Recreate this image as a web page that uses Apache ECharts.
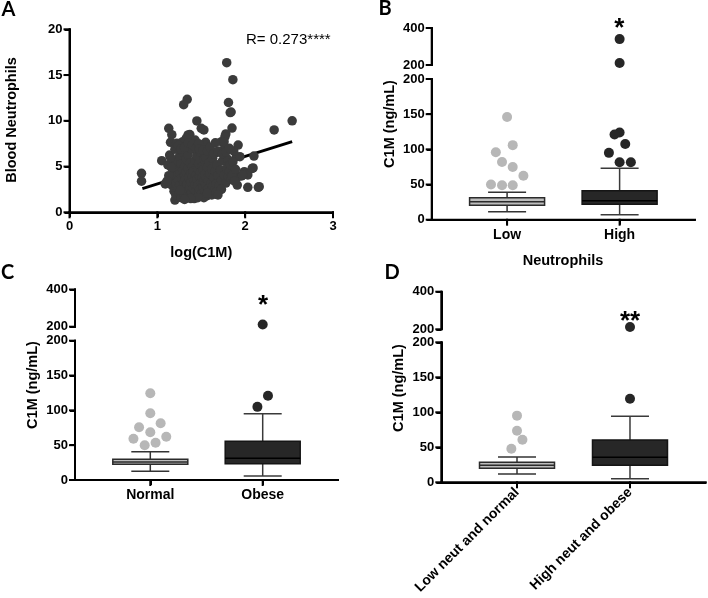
<!DOCTYPE html>
<html><head><meta charset="utf-8">
<script src="https://cdn.jsdelivr.net/npm/echarts@6/dist/echarts.min.js"></script>
<style>html,body{margin:0;padding:0;background:#fff;overflow:hidden}#c{width:708px;height:598px}</style>
</head><body><div id="c"></div>
<script>
// ---------- DATA ----------
// Panel A: log(C1M) vs blood neutrophils
const scatterA = [
[2.535,10.0],[2.33,9.0],[2.16,2.8],[2.03,2.73],[2.09,4.85],[2.10,6.15],[1.99,4.44],[2.03,4.08],[1.96,3.97],[1.92,3.9],
[1.91,2.98],[1.92,7.35],[1.90,6.08],[1.79,16.35],[1.86,14.5],[1.81,12.0],[1.84,10.96],[1.34,12.35],[1.30,11.76],[1.13,9.18],
[1.45,9.98],[1.50,9.18],[1.53,9.0],[1.85,9.2],[1.78,8.56],[0.82,4.26],[0.82,3.4],[1.14,6.26],[1.05,5.64],[1.16,5.35],
[1.15,7.65],[1.165,8.48],[1.20,1.34],[1.43,1.70],[1.22,7.54],[1.29,7.72],[1.37,8.5],[1.55,7.65],[1.73,7.72],[1.77,8.26],
[1.71,6.59],[1.61,6.45],[1.94,6.08],[1.88,4.44],[1.75,3.53],[1.67,3.53],[1.71,2.8],[1.09,3.1],[1.12,5.17],[1.10,3.17],
[1.43,7.9],[1.35,8.45],[1.83,10.9],[1.62,6.62],[1.67,6.52],[1.75,6.8],[1.76,7.72],[1.81,5.35],[1.86,3.9],[1.97,4.08],
[2.15,2.73],[2.08,4.8],[1.69,2.62],[1.33,1.7],
[1.17,2.9],[1.18,3.6],[1.19,4.3],[1.19,2.3],[1.20,5.1],[1.21,3.2],[1.21,1.9],[1.22,4.0],[1.23,2.6],[1.23,5.6],
[1.24,3.5],[1.24,4.7],[1.25,2.1],[1.25,6.1],[1.26,3.0],[1.26,4.2],[1.27,1.6],[1.27,5.3],[1.28,3.7],[1.28,2.5],
[1.29,4.6],[1.29,6.6],[1.30,3.3],[1.30,2.0],[1.31,5.0],[1.31,4.0],[1.32,2.8],[1.32,3.6],[1.33,5.8],[1.33,4.4],
[1.34,2.3],[1.34,3.1],[1.35,4.8],[1.35,6.3],[1.36,3.8],[1.36,1.8],[1.37,2.7],[1.37,5.4],[1.38,4.2],[1.38,3.3],
[1.39,2.1],[1.39,6.9],[1.40,3.9],[1.40,5.0],[1.41,2.6],[1.41,4.5],[1.42,3.5],[1.42,1.5],[1.43,5.7],[1.43,3.0],
[1.44,4.1],[1.44,2.3],[1.45,6.2],[1.45,3.6],[1.46,4.8],[1.46,2.9],[1.47,1.9],[1.47,5.3],[1.48,3.9],[1.48,2.5],
[1.49,4.4],[1.49,6.6],[1.50,3.3],[1.50,2.0],[1.51,5.0],[1.51,3.8],[1.52,2.8],[1.52,4.6],[1.53,3.4],[1.53,5.8],
[1.54,2.3],[1.54,4.1],[1.55,3.0],[1.55,6.0],[1.56,3.7],[1.56,1.8],[1.57,4.9],[1.58,2.6],[1.58,3.5],[1.59,5.4],
[1.60,4.2],[1.60,2.2],[1.61,3.2],[1.62,4.7],[1.63,2.8],[1.63,5.9],[1.64,3.8],[1.65,2.4],[1.66,4.5],[1.67,3.1],
[1.68,5.2],[1.69,4.0],[1.70,2.9],[1.72,4.6],[1.73,3.5],[1.74,5.6],[1.76,4.1],[1.78,3.2],[1.79,4.8],[1.80,5.8],
[1.81,3.9],[1.82,4.5],[1.83,5.2],[1.84,3.6],[1.85,4.0],[1.86,5.5],[1.87,6.7],[1.89,4.7],[1.88,3.4],
[1.16,4.9],[1.15,6.0],[1.13,4.0],[1.11,3.4],[1.20,6.9],[1.24,7.3],[1.27,6.9],[1.31,7.1],[1.33,8.1],[1.35,7.6],
[1.40,7.4],[1.44,7.0],[1.47,7.5],[1.48,6.9],[1.52,6.8],[1.57,6.7],[1.60,7.1],[1.64,6.4],[1.66,7.6],[1.69,6.7],
[1.74,6.4],[1.78,6.6],[1.82,7.0],[1.62,1.9],[1.53,1.6],[1.46,1.6],[1.38,1.5],[1.31,1.4],[1.26,2.4],[1.57,2.1],
[1.67,2.2],[1.73,2.5],[1.69,1.9]
];
const fitX = [0.83, 2.535];
const fitY = [2.58, 7.72];
const rText = 'R= 0.273****';
const ticksAx = [0, 1, 2, 3];
const ticksAy = [0, 5, 10, 15, 20];
const ticksUpper = [200, 400];
const ticksLower = [0, 50, 100, 150, 200];
const ticksCat = [1, 2];

// Panel B: Neutrophils low/high  [min, Q1, median, Q3, max]
const catsB = ['Low', 'High'];
const boxB = [[11.4, 20.5, 25.6, 31.3, 39.0], [7.1, 21.9, 27.0, 41.2, 73.0]];
const outBLow = [[1.0,146],[1.05,106],[0.90,96],[0.955,82],[1.05,75],[1.145,62.5],[0.857,50],[0.955,49],[1.05,49]];
const outBHigh = [[2.0,124],[1.955,121],[2.05,107.6],[1.905,95],[2.0,81.6],[2.1,81.6]];
const outBHighTop = [[2.0,340],[2.0,211]];

// Panel C: Normal/Obese
const catsC = ['Normal', 'Obese'];
const boxC = [[12.4, 22.5, 25.8, 29.7, 40.6], [5.7, 23.4, 31.2, 55.5, 95.2]];
const outCLow = [[1.0,124.5],[1.0,95.8],[1.092,81.4],[0.9,75.7],[1.0,68.5],[1.142,62.2],[0.85,59.3],[1.047,53.6],[0.95,49.8]];
const outCHigh = [[2.047,121],[1.953,105]];
const outCHighTop = [[2.0,212]];

// Panel D
const catsD = ['Low neut and normal', 'High neut and obese'];
const boxD = [[11.9, 20.0, 24.3, 28.6, 36.1], [5.2, 24.3, 35.7, 60.4, 94.3]];
const outDLow = [[1.0,95.2],[1.0,73.7],[1.048,60.9],[0.95,48]];
const outDHigh = [[2.0,119.4]];
const outDHighTop = [[2.0,212]];

// ---------- THEME (axis defaults) ----------
const axisTheme = {
  axisLine: {show: true, onZero: false, lineStyle: {color: '#000000', width: 2}},
  axisTick: {show: true, inside: false, length: 5, lineStyle: {color: '#000000', width: 2}},
  axisLabel: {show: true, color: '#000000', fontFamily: 'Liberation Sans, Arial, sans-serif', fontWeight: 'bold', fontSize: 13},
  splitLine: {show: false}
};
echarts.registerTheme('gp', {
  backgroundColor: '#ffffff',
  valueAxis: JSON.parse(JSON.stringify(axisTheme)),
  categoryAxis: JSON.parse(JSON.stringify(axisTheme))
});

// ---------- LAYOUT ----------
const layouts = [
  {cats: catsB, box: boxB, low: outBLow, high: outBHigh, top: outBHighTop,
   left: 431.7, width: 263.3, upTop: 28, upH: 37, loTop: 79, loH: 140.7, rot: 0},
  {cats: catsC, box: boxC, low: outCLow, high: outCHigh, top: outCHighTop,
   left: 75, width: 263, upTop: 289.5, upH: 37.2, loTop: 340.7, loH: 139.3, rot: 0},
  {cats: catsD, box: boxD, low: outDLow, high: outDHigh, top: outDHighTop,
   left: 441.3, width: 264.4, upTop: 291.7, upH: 37.6, loTop: 342.3, loH: 140, rot: 45}
];

const boxStyles = [
  {fill: '#bdbdbd', stroke: '#2b2b2b', med: '#2b2b2b', wh: '#333333'},
  {fill: '#272727', stroke: '#151515', med: '#000000', wh: '#3a3a3a'}
];
function renderBox(params, api) {
  const x = api.value(0);
  const p = [1, 2, 3, 4, 5].map(i => api.coord([x, api.value(i)]));
  const cx = p[0][0];
  const bw = 75, cw = 38;
  const s = boxStyles[params.dataIndex];
  const seg = (x1, y1, x2, y2, c) => ({type: 'line', shape: {x1: x1, y1: y1, x2: x2, y2: y2}, style: {stroke: c, lineWidth: 1.5}});
  return {type: 'group', children: [
    seg(cx, p[0][1], cx, p[1][1], s.wh),
    seg(cx, p[3][1], cx, p[4][1], s.wh),
    seg(cx - cw / 2, p[0][1], cx + cw / 2, p[0][1], s.wh),
    seg(cx - cw / 2, p[4][1], cx + cw / 2, p[4][1], s.wh),
    {type: 'rect', shape: {x: cx - bw / 2, y: p[3][1], width: bw, height: p[1][1] - p[3][1]},
     style: {fill: s.fill, stroke: s.stroke, lineWidth: 1.5}},
    seg(cx - bw / 2, p[2][1], cx + bw / 2, p[2][1], s.med)
  ]};
}

// axis line + tick marks drawn through the axes' own scales
function axisFrame(xr, yr, xt, yt, drawX) {
  return function (params, api) {
    const k = [];
    const seg = (a, b) => ({type: 'line', shape: {x1: a[0], y1: a[1], x2: b[0], y2: b[1]},
      style: {stroke: '#000000', lineWidth: 2, lineCap: 'square'}});
    const o = api.coord([xr[0], yr[0]]);
    const yTop = api.coord([xr[0], yr[1]]);
    k.push(seg(o, yTop));
    yt.forEach(v => { const p = api.coord([xr[0], v]); k.push(seg([p[0] - 5, p[1]], [p[0], p[1]])); });
    if (drawX) {
      const xEnd = api.coord([xr[1], yr[0]]);
      k.push(seg(o, xEnd));
      xt.forEach(v => { const p = api.coord([v, yr[0]]); k.push(seg([p[0], p[1]], [p[0], p[1] + 5])); });
    }
    return {type: 'group', children: k};
  };
}

const LBL = {show: true, color: '#000000', fontFamily: 'Liberation Sans, Arial, sans-serif', fontWeight: 'bold', fontSize: 13, margin: 7};
const gridList = [{left: 69.5, top: 29.3, width: 263.5, height: 183}];
const xList = [{
  gridIndex: 0, type: 'value', min: 0, max: 3, interval: 1,
  axisLine: {show: true, onZero: false, lineStyle: {color: '#000000', width: 2}},
  axisTick: {show: true, inside: false, length: 5, lineStyle: {color: '#000000', width: 2}},
  axisLabel: Object.assign({}, LBL, {margin: 8}),
  splitLine: {show: false},
  name: 'log(C1M)', nameLocation: 'middle', nameGap: 33,
  nameTextStyle: {color: '#000000', fontFamily: 'Liberation Sans, Arial, sans-serif', fontWeight: 'bold', fontSize: 14.5}
}];
const yList = [{
  gridIndex: 0, type: 'value', min: 0, max: 20, interval: 5,
  axisLine: {show: true, onZero: false, lineStyle: {color: '#000000', width: 2}},
  axisTick: {show: true, inside: false, length: 5, lineStyle: {color: '#000000', width: 2}},
  axisLabel: Object.assign({}, LBL),
  splitLine: {show: false}
}];
const seriesList = [
  {type: 'custom', xAxisIndex: 0, yAxisIndex: 0, data: [[0, 0]], clip: false, silent: true, z: 1,
   renderItem: axisFrame([0, 3], [0, 20], ticksAx, ticksAy, true)},
  {type: 'line', xAxisIndex: 0, yAxisIndex: 0, data: fitX.map((x, i) => [x, fitY[i]]), symbol: 'none',
   lineStyle: {color: '#000000', width: 3}, z: 1, silent: true},
  {type: 'scatter', xAxisIndex: 0, yAxisIndex: 0, data: scatterA, symbolSize: 9.5,
   itemStyle: {color: '#3b3b3b', opacity: 1}, z: 2, silent: true}
];

layouts.forEach(function (pn) {
  const gUp = gridList.length;
  gridList.push({left: pn.left, top: pn.upTop, width: pn.width, height: pn.upH});
  gridList.push({left: pn.left, top: pn.loTop, width: pn.width, height: pn.loH});
  xList.push({gridIndex: gUp, type: 'value', min: 0.33, max: 2.67, show: false, splitLine: {show: false}});
  xList.push({
    gridIndex: gUp + 1, type: 'value', min: 0.33, max: 2.67,
    axisLine: {show: true, onZero: false, lineStyle: {color: '#000000', width: 2}},
    axisTick: {show: true, inside: false, length: 5, customValues: ticksCat, lineStyle: {color: '#000000', width: 2}},
    axisLabel: {show: true, customValues: ticksCat, formatter: function (v) { return pn.cats[Math.round(v) - 1]; },
      rotate: pn.rot, color: '#000000', fontFamily: 'Liberation Sans, Arial, sans-serif', fontWeight: 'bold', fontSize: 14, margin: 8},
    splitLine: {show: false}
  });
  yList.push({
    gridIndex: gUp, type: 'value', min: 200, max: 400, interval: 200,
    axisLine: {show: true, onZero: false, lineStyle: {color: '#000000', width: 2}},
    axisTick: {show: true, inside: false, length: 5, lineStyle: {color: '#000000', width: 2}},
    axisLabel: Object.assign({}, LBL), splitLine: {show: false}
  });
  yList.push({
    gridIndex: gUp + 1, type: 'value', min: 0, max: 200, interval: 50,
    axisLine: {show: true, onZero: false, lineStyle: {color: '#000000', width: 2}},
    axisTick: {show: true, inside: false, length: 5, lineStyle: {color: '#000000', width: 2}},
    axisLabel: Object.assign({}, LBL), splitLine: {show: false}
  });
  seriesList.push({type: 'custom', xAxisIndex: gUp, yAxisIndex: gUp, data: [[0.33, 200]], clip: false, silent: true, z: 1,
    renderItem: axisFrame([0.33, 2.67], [200, 400], [], ticksUpper, false)});
  seriesList.push({type: 'custom', xAxisIndex: gUp + 1, yAxisIndex: gUp + 1, data: [[0.33, 0]], clip: false, silent: true, z: 1,
    renderItem: axisFrame([0.33, 2.67], [0, 200], ticksCat, ticksLower, true)});
  seriesList.push({type: 'custom', xAxisIndex: gUp + 1, yAxisIndex: gUp + 1, renderItem: renderBox,
    data: pn.box.map((b, i) => [i + 1].concat(b)), z: 2, silent: true});
  seriesList.push({type: 'scatter', xAxisIndex: gUp + 1, yAxisIndex: gUp + 1, data: pn.low, symbolSize: 10,
    itemStyle: {color: '#b7b7b7', opacity: 1}, z: 3, silent: true});
  seriesList.push({type: 'scatter', xAxisIndex: gUp + 1, yAxisIndex: gUp + 1, data: pn.high, symbolSize: 10,
    itemStyle: {color: '#262626', opacity: 1}, z: 3, silent: true});
  seriesList.push({type: 'scatter', xAxisIndex: gUp, yAxisIndex: gUp, data: pn.top, symbolSize: 10,
    itemStyle: {color: '#262626', opacity: 1}, z: 3, silent: true});
});

function txt(text, x, y, font, rot) {
  return {type: 'text', x: x, y: y, rotation: rot || 0, silent: true,
    style: {text: text, font: font, fill: '#000000', textAlign: 'center', textVerticalAlign: 'middle'}};
}
const titleFont = 'bold 14.5px Liberation Sans, Arial, sans-serif';
const letterFont = 'bold 20px Lato, Open Sans, sans-serif';
const starFont = 'bold 26px Liberation Sans, Arial, sans-serif';
const graphicList = [
  txt('A', 8.5, 10, letterFont),
  txt('B', 385, 8.5, letterFont),
  txt('C', 7.5, 272.5, letterFont),
  txt('D', 392, 272.5, letterFont),
  txt('Blood Neutrophils', 11.7, 120, titleFont, Math.PI / 2),
  txt('C1M (ng/mL)', 390, 124, titleFont, Math.PI / 2),
  txt('C1M (ng/mL)', 33.3, 385, titleFont, Math.PI / 2),
  txt('C1M (ng/mL)', 399, 388, titleFont, Math.PI / 2),
  txt('Neutrophils', 563, 261, titleFont),
  txt('*', 619.3, 29, starFont),
  txt('*', 263, 306, starFont),
  txt('**', 630, 322, starFont),
  {type: 'text', x: 246, y: 39.5, silent: true,
   style: {text: rText, font: '15px Liberation Sans, Arial, sans-serif', fill: '#000000', textAlign: 'left', textVerticalAlign: 'middle'}}
];

const chart = echarts.init(document.getElementById('c'), 'gp', {renderer: 'canvas'});
chart.setOption({animation: false, backgroundColor: '#ffffff',
  grid: gridList, xAxis: xList, yAxis: yList, series: seriesList, graphic: graphicList});
</script></body></html>
